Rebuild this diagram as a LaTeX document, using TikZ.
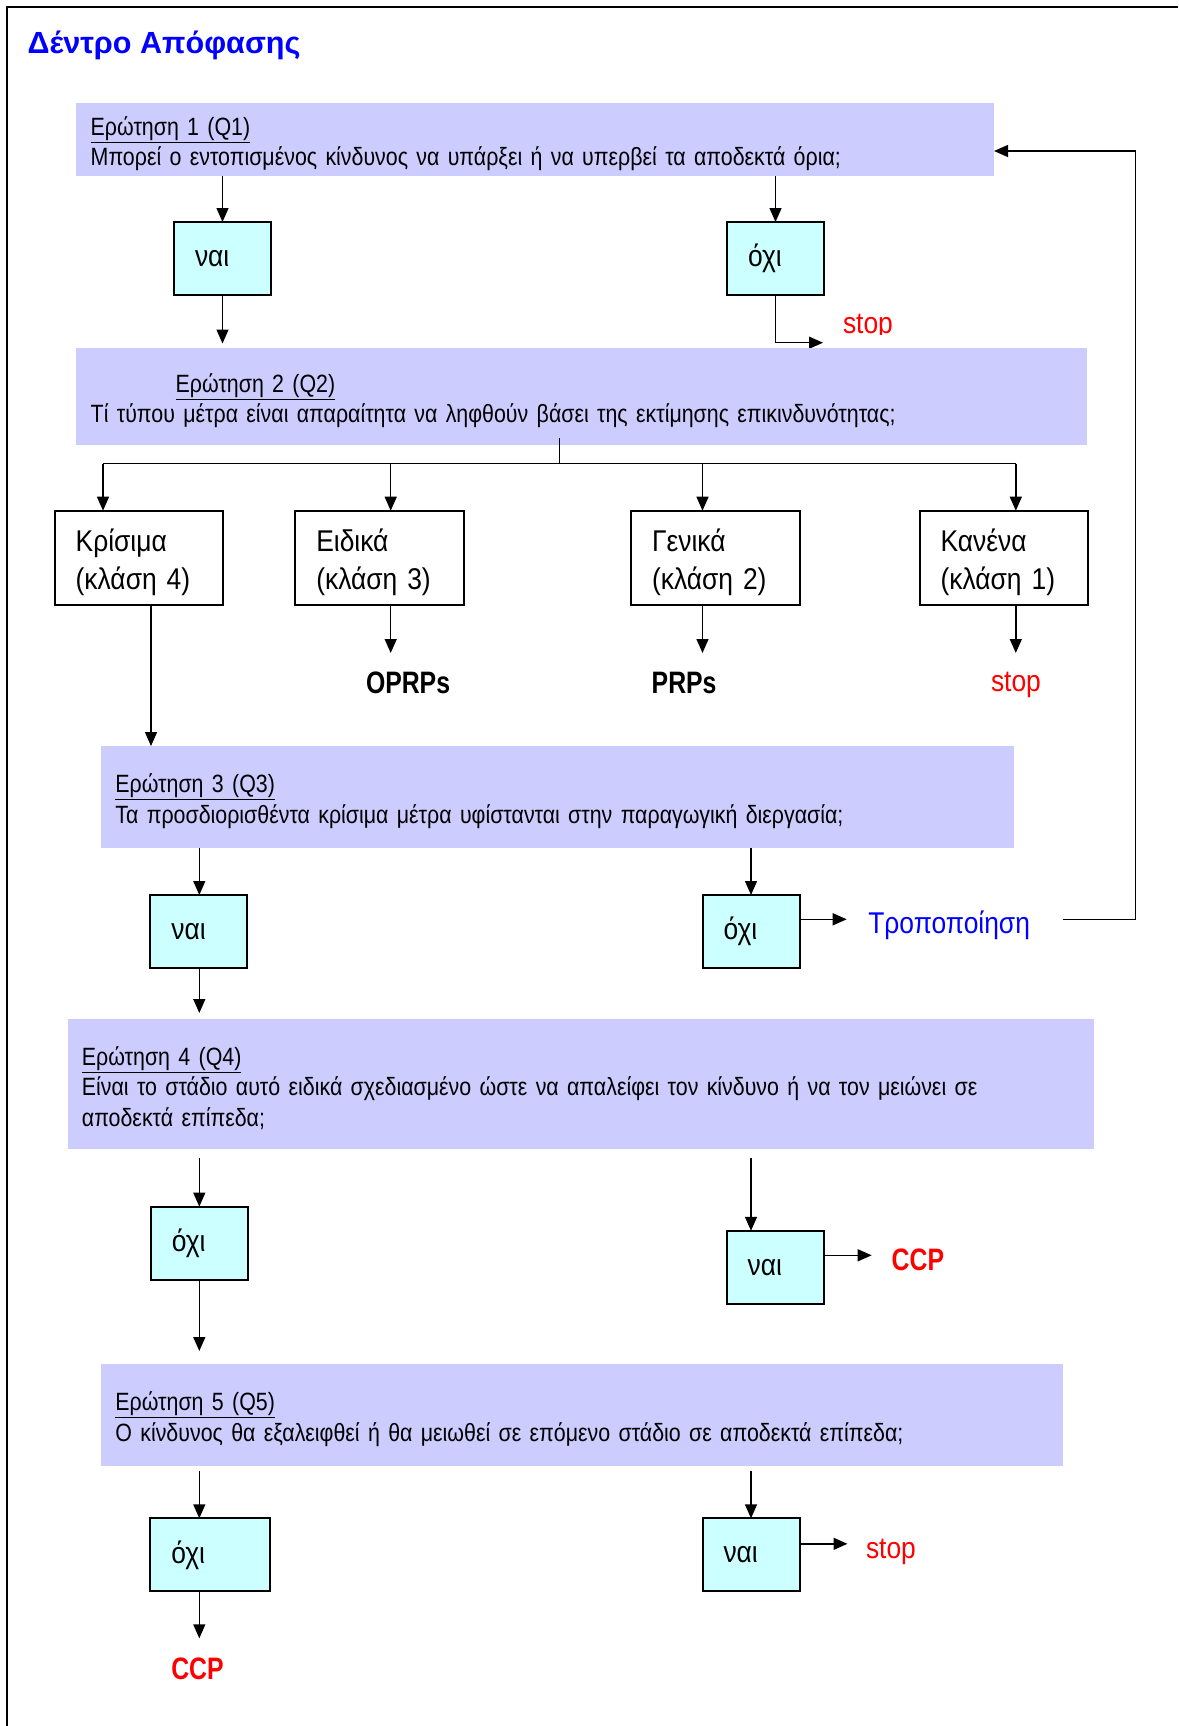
\documentclass[tikz,border=0pt]{standalone}
\usepackage{fontspec}
\setmainfont{Liberation Sans}[FakeStretch=0.88]
\newfontfamily\titlefont{Liberation Sans}
\newfontfamily\narrowfont{Liberation Sans}[FakeStretch=0.8]
\newfontfamily\qfamily{Liberation Sans}[FakeStretch=0.855]
\usetikzlibrary{arrows.meta}
\definecolor{qlilac}{RGB}{204,204,255}
\definecolor{anscyan}{RGB}{204,255,255}
\tikzset{
	qbox/.style={fill=qlilac,anchor=north west,inner xsep=14.7pt,inner ysep=0pt,outer sep=0pt,text height=27pt,align=left,font=\fontsize{25}{30.5}\selectfont\qfamily},
	ansbox/.style={draw,line width=2pt,fill=anscyan,anchor=north west,minimum height=73pt,inner xsep=21pt,outer sep=0pt,text width=55pt,align=left,font=\fontsize{30}{36}\selectfont},
	classbox/.style={draw,line width=2pt,anchor=north west,minimum height=94.3pt,inner xsep=21pt,inner ysep=0pt,outer sep=0pt,text width=126.5pt,text height=32.5pt,align=left,font=\fontsize{30}{38}\selectfont},
	arr/.style={-{Triangle[length=14pt,width=12pt]},line width=1.4pt},
	wire/.style={line width=1.4pt},
	lbl/.style={anchor=base west,inner sep=0pt,outer sep=0pt,font=\fontsize{30}{36}\selectfont},
	bold/.style={lbl,font=\fontsize{31}{36}\selectfont\narrowfont\bfseries}
}
\begin{document}
\begin{tikzpicture}[x=1pt,y=1pt]
	\useasboundingbox(0,0) rectangle (1178,-1726);
	\draw[line width=2pt](6.7,-1726)--(6.7,-6.7)--(1178,-6.7);
	\node[lbl,text=blue,font=\fontsize{30.6}{36}\selectfont\titlefont\bfseries](title) at (27.5,-53.3){Δέντρο Απόφασης};
	% Q1
	\node[qbox,text width=888.6pt,minimum height=73pt](q1) at (76,-103)
		{\underline{Ερώτηση 1 (Q1)}\\Μπορεί ο εντοπισμένος κίνδυνος να υπάρξει ή να υπερβεί τα αποδεκτά όρια;};
	\node[ansbox](n1) at (174,-222){ναι};
	\node[ansbox](n2) at (727,-222){όχι};
	\draw[arr](q1.south -| n1.north)--(n1.north);
	\draw[arr](q1.south -| n2.north)--(n2.north);
	\coordinate(s1in) at (823,-342.7);
	\draw[arr](n2.south) |- (s1in);
	\begin{scope}
		\clip(830,-300) rectangle (910,-334);
		\node[lbl,text=red](s1) at (843,-333){stop};
	\end{scope}
	% Q2
	\node[qbox,text width=981.2pt,minimum height=97pt](q2) at (76,-348)
		{\hspace*{85pt}\underline{Ερώτηση 2 (Q2)}\\Τί τύπου μέτρα είναι απαραίτητα να ληφθούν βάσει της εκτίμησης επικινδυνότητας;};
	\draw[arr,shorten >=4.5pt](n1.south)--(n1.south |- q2.north);
	\node[classbox](k4) at (54.7,-510.7){Κρίσιμα\\(κλάση 4)};
	\node[classbox](k3) at (295.3,-510.7){Ειδικά\\(κλάση 3)};
	\node[classbox](k2) at (631,-510.7){Γενικά\\(κλάση 2)};
	\node[classbox](k1) at (919.6,-510.7){Κανένα\\(κλάση 1)};
	\coordinate(stem) at (559.5,-438);
	\coordinate(fan) at (559.5,-463.5);
	\coordinate(d4) at (103,-463.5);
	\coordinate(d3) at (390.7,-463.5);
	\coordinate(d2) at (702.5,-463.5);
	\coordinate(d1) at (1015.8,-463.5);
	\draw[wire](stem)--(fan) (d4)--(d1);
	\draw[arr](d4)--(d4 |- k4.north);
	\draw[arr](d3)--(d3 |- k3.north);
	\draw[arr](d2)--(d2 |- k2.north);
	\draw[arr](d1)--(d1 |- k1.north);
	\node[bold](oprp) at (366,-693){OPRPs};
	\node[bold](prp) at (651.7,-693){PRPs};
	\node[lbl,text=red](s2) at (991,-691.7){stop};
	\coordinate(o3) at (390.7,-653);
	\coordinate(o2) at (702.5,-653);
	\coordinate(o1) at (1015.8,-653);
	\draw[arr](k3.south -| o3)--(o3);
	\draw[arr](k2.south -| o2)--(o2);
	\draw[arr](k1.south -| o1)--(o1);
	% Q3
	\node[qbox,text width=884pt,minimum height=102pt](q3) at (100.7,-746)
		{\underline{Ερώτηση 3 (Q3)}\\Τα προσδιορισθέντα κρίσιμα μέτρα υφίστανται στην παραγωγική διεργασία;};
	\coordinate(k4x) at (151,0);
	\draw[arr](k4.south -| k4x)--(k4x |- q3.north);
	\coordinate(colL) at (199.3,0);
	\coordinate(colR) at (751,0);
	\node[ansbox](n3) at (150.3,-895){ναι};
	\node[ansbox](n4) at (702.5,-895){όχι};
	\draw[arr](q3.south -| colL)--(n3.north -| colL);
	\draw[arr](q3.south -| colR)--(n4.north -| colR);
	\node[lbl,text=blue](mod) at (868.3,-933){Τροποποίηση};
	\coordinate(n4r) at ([yshift=12.2pt]n4.east);
	\coordinate(fbx) at (1135.5,-151);
	\draw[arr,shorten >=21.6pt](n4r)--(n4r -| mod.west);
	\draw[arr,shorten <=32.7pt](n4r -| mod.east)--(n4r -| fbx)--(fbx)--(fbx -| q1.east);
	% Q4
	\node[qbox,inner xsep=13.5pt,text width=999pt,minimum height=130pt](q4) at (68.4,-1019)
		{\underline{Ερώτηση 4 (Q4)}\\Είναι το στάδιο αυτό ειδικά σχεδιασμένο ώστε να απαλείφει τον κίνδυνο ή να τον μειώνει σε\\αποδεκτά επίπεδα;};
	\draw[arr,shorten >=6pt](n3.south -| colL)--(q4.north -| colL);
	\node[ansbox](n5) at (150.8,-1206.6){όχι};
	\node[ansbox](n6) at (726.6,-1230.8){ναι};
	\draw[arr,shorten <=9pt](q4.south -| colL)--(n5.north -| colL);
	\draw[arr,shorten <=9pt](q4.south -| colR)--(n6.north -| colR);
	\node[bold,text=red](ccp1) at (891.7,-1270.7){CCP};
	\coordinate(n6r) at ([yshift=12pt]n6.east);
	\draw[arr,shorten >=20pt](n6r)--(n6r -| ccp1.west);
	% Q5
	\node[qbox,text width=933pt,minimum height=101.7pt](q5) at (100.7,-1364)
		{\underline{Ερώτηση 5 (Q5)}\\Ο κίνδυνος θα εξαλειφθεί ή θα μειωθεί σε επόμενο στάδιο σε αποδεκτά επίπεδα;};
	\draw[arr,shorten >=13pt](n5.south -| colL)--(q5.north -| colL);
	\node[ansbox,text width=78pt](n7) at (150.3,-1518.3){όχι};
	\node[ansbox](n8) at (702.5,-1518.3){ναι};
	\draw[arr,shorten <=5.3pt](q5.south -| colL)--(n7.north -| colL);
	\draw[arr,shorten <=5.3pt](q5.south -| colR)--(n8.north -| colR);
	\node[lbl,text=red](s3) at (866,-1558){stop};
	\coordinate(n8r) at ([yshift=11pt]n8.east);
	\draw[arr,shorten >=18.5pt](n8r)--(n8r -| s3.west);
	\node[bold,text=red](ccp2) at (171.3,-1679){CCP};
	\coordinate(c2in) at (199.3,-1638.3);
	\draw[arr](n7.south -| colL)--(c2in);
\end{tikzpicture}
\end{document}
